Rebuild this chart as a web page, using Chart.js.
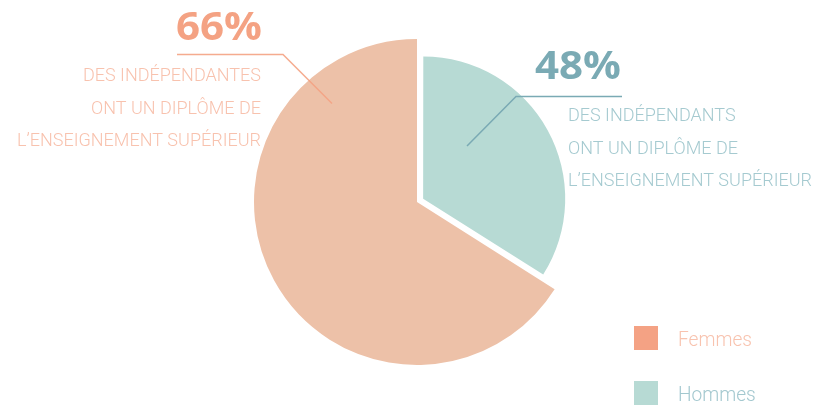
<!DOCTYPE html>
<html>
<head>
<meta charset="utf-8">
<script src="https://cdn.jsdelivr.net/npm/chart.js@4/dist/chart.umd.min.js"></script>
<style>
  html, body { margin: 0; padding: 0; background: #fff; }
  #wrap { position: relative; width: 814px; height: 407px; }
</style>
</head>
<body>
<div id="wrap"><canvas id="pieChart" width="814" height="407"></canvas></div>
<script>
// slices, clockwise from 12 o'clock
const categories = ["Hommes", "Femmes"];
const shares = [34, 66];
const sliceColors = ["#b7dad4", "#edc1a8"];

// legend (top to bottom)
const legendLabels = ["Femmes", "Hommes"];
const legendColors = ["#f4a284", "#b7dad4"];
const legendTextColors = ["#f8c3af", "#a3c8cf"];

// callouts
const headlines = ["66%", "48%"];
const leftLines = ["DES INDÉPENDANTES", "ONT UN DIPLÔME DE", "L\u2019ENSEIGNEMENT SUPÉRIEUR"];
const rightLines = ["DES INDÉPENDANTS", "ONT UN DIPLÔME DE", "L\u2019ENSEIGNEMENT SUPÉRIEUR"];

const bodyFont = "300 19px 'Roboto', 'DejaVu Sans', sans-serif";
const legendFont = "300 21px 'Roboto', 'DejaVu Sans', sans-serif";
const headFont = "bold 39px 'Open Sans', 'Lato', sans-serif";

// the Hommes slice is drawn with a smaller radius than Femmes
const smallSlice = {
  id: "smallSlice",
  afterDatasetsUpdate(chart) {
    const arc = chart.getDatasetMeta(0).data[0];
    arc.outerRadius = arc.outerRadius * 0.865;
  }
};

// text squeezed horizontally (the original uses a condensed face)
function squeezed(ctx, text, x, y, align, sx) {
  ctx.save();
  ctx.translate(x, y);
  ctx.scale(sx, 1);
  ctx.textAlign = align;
  ctx.fillText(text, 0, 0);
  ctx.restore();
}

const callouts = {
  id: "callouts",
  afterDraw(chart) {
    const ctx = chart.ctx;
    ctx.save();
    ctx.textBaseline = "alphabetic";

    // leader lines
    ctx.lineWidth = 1.5;
    ctx.strokeStyle = "rgba(244,162,131,0.9)";
    ctx.beginPath();
    ctx.moveTo(177, 54.5);
    ctx.lineTo(283, 54.5);
    ctx.lineTo(332, 103.5);
    ctx.stroke();

    ctx.strokeStyle = "#7aaab4";
    ctx.beginPath();
    ctx.moveTo(622, 96.5);
    ctx.lineTo(516, 96.5);
    ctx.lineTo(467, 146);
    ctx.stroke();

    // headline numbers
    ctx.font = headFont;
    const hs = 86 / ctx.measureText(headlines[0]).width;
    ctx.fillStyle = "#f4a283";
    squeezed(ctx, headlines[0], 262, 40, "right", hs);
    ctx.fillStyle = "#7aaab4";
    squeezed(ctx, headlines[1], 535, 79, "left", hs);

    // body text
    ctx.font = bodyFont;
    const bs = 244 / ctx.measureText(leftLines[2]).width;
    ctx.fillStyle = "#f8c2ae";
    leftLines.forEach(function (t, i) {
      squeezed(ctx, t, 261, 81 + i * 32.5, "right", bs);
    });
    ctx.fillStyle = "#a5cad0";
    rightLines.forEach(function (t, i) {
      squeezed(ctx, t, 568, 121 + i * 32.5, "left", bs);
    });

    // legend
    ctx.font = legendFont;
    const ls = 74 / ctx.measureText(legendLabels[0]).width;
    legendLabels.forEach(function (t, i) {
      var y = 326 + i * 55;
      ctx.fillStyle = legendColors[i];
      ctx.fillRect(634, y, 24, 24);
      ctx.fillStyle = legendTextColors[i];
      squeezed(ctx, t, 678, y + 20, "left", ls);
    });

    ctx.restore();
  }
};

new Chart(document.getElementById("pieChart"), {
  type: "pie",
  data: {
    labels: categories,
    datasets: [
      {
        data: shares,
        backgroundColor: sliceColors,
        borderWidth: 0,
        hoverBorderWidth: 0,
        // Chart.js v4 draws a quarter of this as the shift
        offset: [28, 0],
        hoverOffset: 0,
      },
    ],
  },
  options: {
    responsive: false,
    animation: false,
    events: [],
    radius: 163,
    layout: { padding: { left: 20, right: 0, top: 30, bottom: 33 } },
    plugins: {
      legend: { display: false },
      tooltip: { enabled: false },
    },
  },
  plugins: [smallSlice, callouts],
});
</script>
</body>
</html>
